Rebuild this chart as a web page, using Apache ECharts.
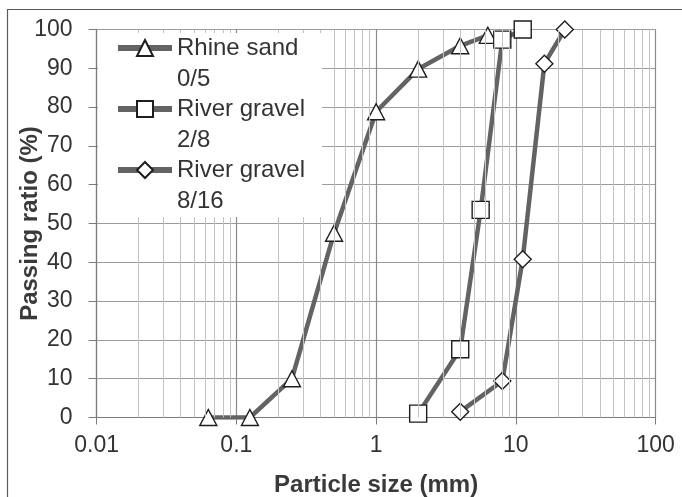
<!DOCTYPE html>
<html>
<head>
<meta charset="utf-8">
<script src="https://cdn.jsdelivr.net/npm/echarts@6/dist/echarts.min.js"></script>
<style>
  html, body { margin: 0; padding: 0; background: #fff; }
  #chart { width: 682px; height: 497px; }
</style>
</head>
<body>
<div id="chart"></div>
<script>
// Grading curves: sieve size (mm) vs. passing ratio (%)
const seriesNames = ['Rhine sand\n0/5', 'River gravel\n2/8', 'River gravel\n8/16'];

const rhineSandSize = [0.063, 0.125, 0.25, 0.5, 1, 2, 4, 6.3];
const rhineSandPass = [0, 0, 10, 47.5, 78.8, 89.8, 95.8, 98.5];

const gravel28Size = [2, 4, 5.6, 8, 11.2];
const gravel28Pass = [1, 17.6, 53.5, 97.4, 100];

const gravel816Size = [4, 8, 11.2, 16, 22.4];
const gravel816Pass = [1.5, 9.4, 40.8, 91.2, 100];

const xTickLabels = ['0.01', '0.1', '1', '10', '100'];
const yTickLabels = ['0', '10', '20', '30', '40', '50', '60', '70', '80', '90', '100'];

const FONT = '"Liberation Sans", Arial, sans-serif';
const TEXT = '#333';
const CURVE = '#636363';

// light vertical lines at 2..9 within each decade
const minorLines = [];
for (let d = 0.01; d < 100; d *= 10) {
  for (let m = 2; m <= 9; m++) minorLines.push({ xAxis: +(d * m).toPrecision(3) });
}

function pairs(xs, ys) { return xs.map((x, i) => [x, ys[i]]); }

const curveStyle = { color: CURVE, width: 4.5 };
const markerStyle = { color: '#ffffff', borderColor: '#1e1e1e', borderWidth: 1.4 };

const chart = echarts.init(document.getElementById('chart'), null, { renderer: 'canvas' });

chart.setOption({
  animation: false,
  backgroundColor: '#ffffff',
  textStyle: { fontFamily: FONT },
  grid: {
    left: 96.6, right: 26.4, top: 29.5, bottom: 79.5,
    containLabel: false, outerBoundsMode: 'none'
  },
  xAxis: {
    type: 'log',
    logBase: 10,
    min: 0.01,
    max: 100,
    name: 'Particle size (mm)',
    nameLocation: 'middle',
    nameGap: 56,
    nameMoveOverlap: false,
    nameTextStyle: { fontSize: 24, fontWeight: 'bold', color: '#3a3a3a', fontFamily: FONT },
    axisLine: { show: true, lineStyle: { color: '#7a7a7a', width: 1.2 } },
    axisTick: { show: true, length: 7, lineStyle: { color: '#7a7a7a' } },
    axisLabel: {
      fontSize: 23, color: TEXT, margin: 17, fontFamily: FONT,
      formatter: (v, i) => xTickLabels[i]
    },
    splitLine: { show: true, lineStyle: { color: '#8a8a8a', width: 1.2 } }
  },
  yAxis: {
    type: 'value',
    min: 0,
    max: 100,
    interval: 10,
    name: 'Passing ratio (%)',
    nameLocation: 'middle',
    nameGap: 54,
    nameMoveOverlap: false,
    nameTextStyle: { fontSize: 24, fontWeight: 'bold', color: '#3a3a3a', fontFamily: FONT },
    axisLine: { show: true, lineStyle: { color: '#7a7a7a', width: 1.2 } },
    axisTick: { show: true, length: 8, lineStyle: { color: '#7a7a7a' } },
    axisLabel: {
      fontSize: 23, color: TEXT, margin: 24, fontFamily: FONT,
      formatter: (v, i) => yTickLabels[i]
    },
    splitLine: { show: true, lineStyle: { color: '#9c9c9c', width: 1.2 } }
  },
  legend: {
    data: seriesNames,
    orient: 'vertical',
    left: 115,
    top: 1.5,
    padding: 0,
    itemWidth: 54,
    itemHeight: 20,
    itemGap: -32,
    selectedMode: false,
    // a leading blank line keeps the marker level with the first text line
    formatter: name => '\n' + name,
    lineStyle: { color: CURVE, width: 6 },
    textStyle: { fontSize: 24, color: TEXT, fontFamily: FONT, lineHeight: 31 },
    z: 60
  },
  graphic: [
    // white panel behind the legend
    { type: 'rect', z: 50, silent: true,
      shape: { x: 98, y: 33, width: 224, height: 184 },
      style: { fill: '#ffffff' } },
    // outer frame
    { type: 'rect', z: 70, silent: true,
      shape: { x: 7.5, y: 9.5, width: 800, height: 700 },
      style: { fill: null, stroke: '#5a5a5a', lineWidth: 1.2 } }
  ],
  series: [
    {
      type: 'line', name: 'minor-grid', data: [], z: 1, silent: true,
      markLine: {
        silent: true, symbol: 'none', label: { show: false },
        lineStyle: { color: '#c2c2c2', width: 1, type: 'solid' },
        data: minorLines,
        animation: false
      }
    },
    {
      type: 'line', name: seriesNames[0], data: pairs(rhineSandSize, rhineSandPass),
      symbol: 'triangle', symbolSize: [17, 16], lineStyle: curveStyle, itemStyle: markerStyle, z: 3
    },
    {
      type: 'line', name: seriesNames[1], data: pairs(gravel28Size, gravel28Pass),
      symbol: 'rect', symbolSize: 17, lineStyle: curveStyle, itemStyle: markerStyle, z: 3
    },
    {
      type: 'line', name: seriesNames[2], data: pairs(gravel816Size, gravel816Pass),
      symbol: 'diamond', symbolSize: [17, 17], lineStyle: curveStyle, itemStyle: markerStyle, z: 3
    }
  ]
});
</script>
</body>
</html>
